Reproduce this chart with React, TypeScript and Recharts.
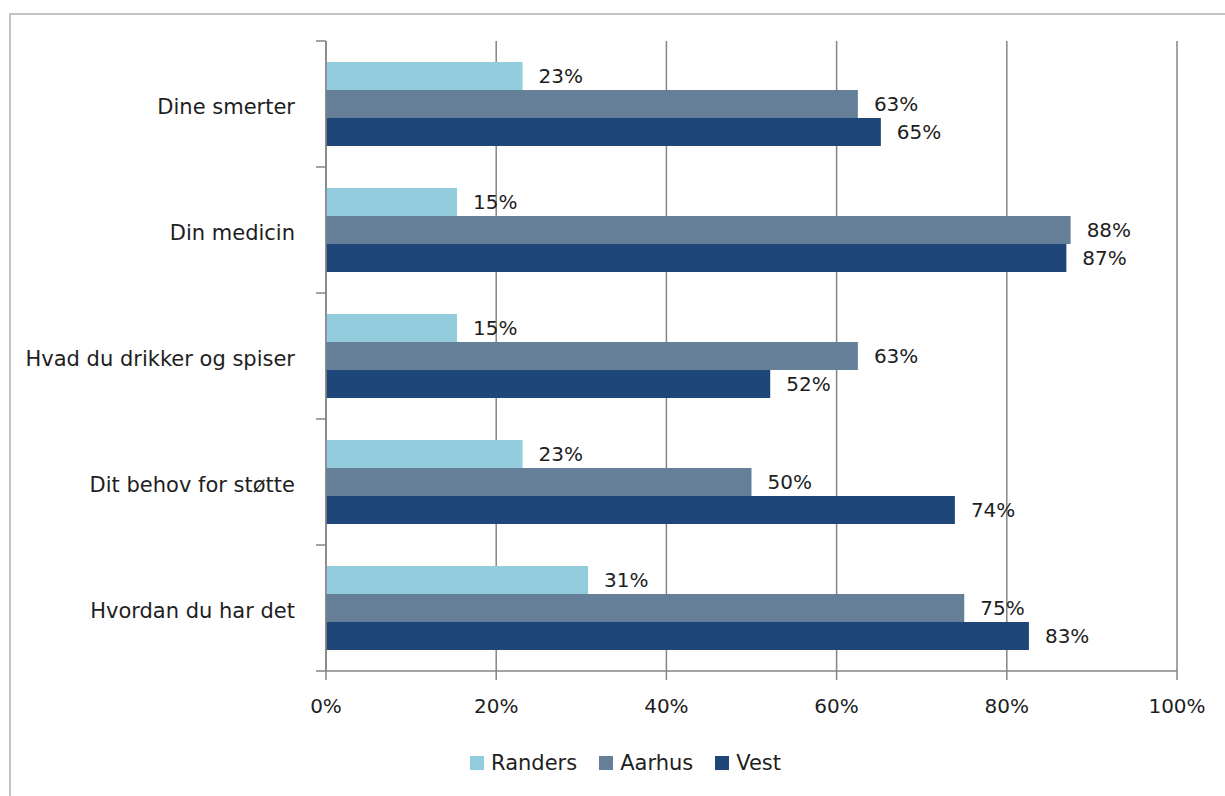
import React from "react";
import {
  BarChart,
  Bar,
  XAxis,
  YAxis,
  CartesianGrid,
  Legend,
  LabelList,
} from "recharts";

const categories = [
  "Dine smerter",
  "Din medicin",
  "Hvad du drikker og spiser",
  "Dit behov for støtte",
  "Hvordan du har det",
];
const randers = [23.1, 15.4, 15.4, 23.1, 30.8];
const aarhus = [62.5, 87.5, 62.5, 50.0, 75.0];
const vest = [65.2, 87.0, 52.2, 73.9, 82.6];
const xTicks = [0, 20, 40, 60, 80, 100];

const seriesNames = ["Randers", "Aarhus", "Vest"];
const colors = ["#93cddd", "#667f99", "#1f4678"];

const W = 1225;
const H = 796;
const MARGIN = { top: 41, right: 48, left: 10, bottom: 18 };
const PLOT_BOTTOM = 671;
const PLOT_H = PLOT_BOTTOM - MARGIN.top;
const BAND = PLOT_H / categories.length;
const LABEL_GAP = 31;
const FONT = "'DejaVu Sans', sans-serif";
const TEXT = "#1e1e1e";
const AXIS = "#858585";

const data = categories.map((c, i) => ({
  name: c,
  Randers: randers[i],
  Aarhus: aarhus[i],
  Vest: vest[i],
}));

// category label plus Excel-style tick marks on the band boundaries
const CategoryTick = (props: any) => {
  const { x, y, payload, index } = props;
  const axisX = x + LABEL_GAP;
  const last = index === categories.length - 1;
  return (
    <g>
      <line x1={axisX - 10} x2={axisX} y1={y - BAND / 2} y2={y - BAND / 2} stroke={AXIS} strokeWidth={1.5} />
      {last && (
        <line x1={axisX - 10} x2={axisX} y1={y + BAND / 2} y2={y + BAND / 2} stroke={AXIS} strokeWidth={1.5} />
      )}
      <text x={x} y={y + 3} textAnchor="end" dominantBaseline="central" fill={TEXT} fontSize={21} fontFamily={FONT}>
        {payload.value}
      </text>
    </g>
  );
};

const LegendContent = () => (
  <div style={{ display: "flex", justifyContent: "flex-start", alignItems: "center", height: 30, paddingLeft: 460 }}>
    {seriesNames.map((s, i) => (
      <div key={s} style={{ display: "flex", alignItems: "center", marginRight: 22 }}>
        <span style={{ width: 14, height: 14, background: colors[i], display: "inline-block", marginRight: 7 }} />
        <span style={{ fontSize: 21, fontFamily: FONT, color: TEXT }}>{s}</span>
      </div>
    ))}
  </div>
);

const App: React.FC = () => {
  return (
    <div style={{ position: "absolute", top: 0, left: 0, width: W, height: H, background: "#fff" }}>
      <div
        style={{
          position: "absolute",
          top: 13,
          left: 9,
          right: 0,
          bottom: 0,
          borderTop: "2px solid #c4c4c4",
          borderLeft: "2px solid #c4c4c4",
        }}
      />
      <BarChart
        width={W}
        height={H}
        data={data}
        layout="vertical"
        margin={MARGIN}
        barCategoryGap={21}
        barGap={0}
      >
        <CartesianGrid horizontal={false} stroke={AXIS} strokeWidth={1.5} />
        <XAxis
          type="number"
          domain={[0, 100]}
          ticks={xTicks}
          tickFormatter={(v) => `${v}%`}
          height={77}
          tickSize={9}
          tickMargin={19}
          axisLine={{ stroke: AXIS, strokeWidth: 1.5 }}
          tickLine={{ stroke: AXIS, strokeWidth: 1.5 }}
          tick={{ fill: TEXT, fontSize: 20, fontFamily: FONT }}
        />
        <YAxis
          type="category"
          dataKey="name"
          width={316}
          tickSize={0}
          tickMargin={LABEL_GAP}
          axisLine={{ stroke: AXIS, strokeWidth: 1.5 }}
          tickLine={false}
          tick={<CategoryTick />}
          interval={0}
        />
        <Legend verticalAlign="bottom" height={30} content={<LegendContent />} />
        {seriesNames.map((s, i) => (
          <Bar key={s} dataKey={s} fill={colors[i]} isAnimationActive={false}>
            <LabelList
              dataKey={s}
              position="right"
              offset={16}
              fill={TEXT}
              fontSize={20}
              fontFamily={FONT}
              formatter={(v: any) => `${Math.round(Number(v))}%`}
            />
          </Bar>
        ))}
      </BarChart>
    </div>
  );
};

export default App;
